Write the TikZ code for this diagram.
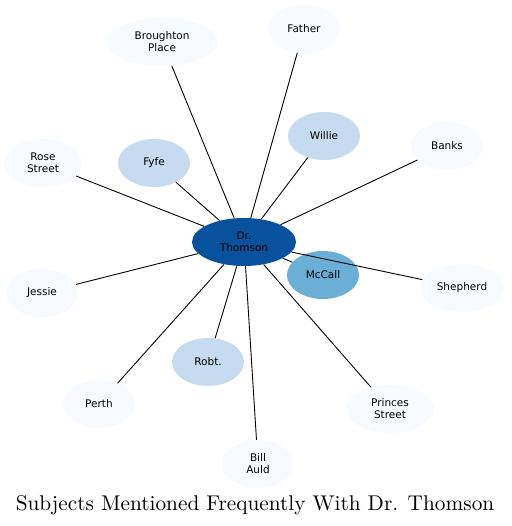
\documentclass[tikz,border=0pt]{standalone}
\usepackage{fontspec}
\usetikzlibrary{shapes.geometric}
\newfontfamily\subjfont{DejaVu Sans}
\newfontfamily\titlefont{lmroman10-regular.otf}
\definecolor{hubblue}{HTML}{08519C}
\definecolor{midblue}{HTML}{6BAED6}
\definecolor{lightblue}{HTML}{C6DBEF}
\definecolor{paleblue}{HTML}{F7FBFF}
\tikzset{subj/.style={ellipse,inner sep=0pt,minimum width=72pt,minimum height=48pt,align=center,font=\subjfont\fontsize{10.5}{12}\selectfont},
  hub/.style={subj,fill=hubblue,minimum width=104pt},mid/.style={subj,fill=midblue},
  light/.style={subj,fill=lightblue},pale/.style={subj,fill=paleblue},link/.style={line width=0.9pt}}

\begin{document}
\begin{tikzpicture}[x=1pt,y=-1pt]
\useasboundingbox (0,0) rectangle (511,526);
\node[hub] (thomson) at (244,242) {Dr.\\Thomson};
\node[mid] (mccall) at (323,275) {McCall};
\node[light] (fyfe) at (154,163) {Fyfe}; \node[light] (willie) at (324,136) {Willie}; \node[light] (robt) at (208,362) {Robt.};
\node[pale,minimum width=112pt] (broughton) at (162,42) {Broughton\\Place}; \node[pale] (father) at (304,29) {Father};
\node[pale,minimum width=78pt] (rose) at (43,163) {Rose\\Street}; \node[pale] (banks) at (447,146) {Banks};
\node[pale] (jessie) at (42,293) {Jessie}; \node[pale,minimum width=84pt] (shepherd) at (462,288) {Shepherd};
\node[pale] (perth) at (99,404) {Perth}; \node[pale,minimum width=88pt] (princes) at (390,409) {Princes\\Street};
\node[pale] (auld) at (258,464) {Bill\\Auld};
\foreach \n in {mccall,fyfe,willie,robt,broughton,father,rose,banks,jessie,shepherd,perth,princes,auld}
  \draw[link] (thomson) -- (\n);
\node[font=\titlefont\fontsize{21.3}{25}\selectfont] (title) at (255,505) {Subjects Mentioned Frequently With Dr. Thomson};
\end{tikzpicture}
\end{document}
